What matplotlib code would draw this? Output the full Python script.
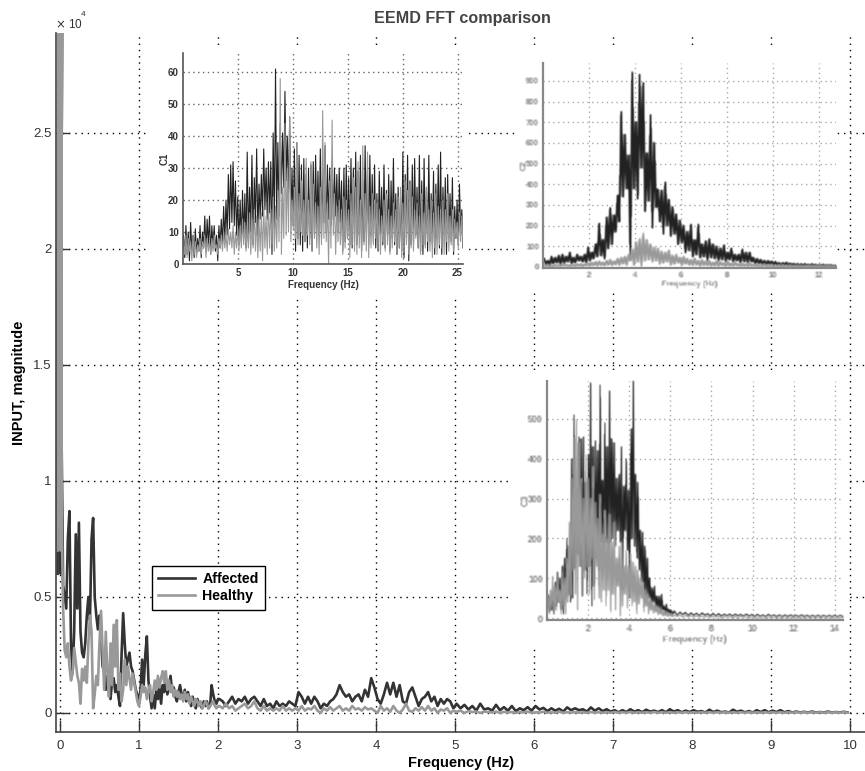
import numpy as np
import matplotlib
matplotlib.use('Agg')
import matplotlib.pyplot as plt

plt.rcParams['font.family'] = ['Liberation Sans', 'DejaVu Sans']

W, H = 865, 771
DARK = '#333333'
GRAY = '#999999'

# main spectrum, magnitude / 1e4
spike_freq = [-0.03, -0.02, -0.01, 0.0, 0.01, 0.025, 0.01, 0.0]
spike_aff = [0.6, 2.93, 0.95, 2.93, 0.9, 2.93, 0.6, 0.9]
spike_hea = [0.7, 2.93, 0.8, 2.93, 0.7, 2.93, 0.75, 2.15]

low_aff = [1.2, 0.55, 0.5, 0.45, 0.75, 0.87, 0.3, 0.17, 0.35, 0.77, 0.45, 0.82, 0.35, 0.26, 0.24, 0.3,
           0.42, 0.5, 0.4, 0.75, 0.84, 0.5, 0.42, 0.36, 0.42, 0.33, 0.2, 0.18, 0.1, 0.16, 0.12, 0.06,
           0.14, 0.15, 0.09, 0.12, 0.07, 0.03, 0.25, 0.43, 0.3, 0.2, 0.23, 0.26, 0.2, 0.18, 0.14, 0.1,
           0.08, 0.04, 0.1, 0.23, 0.12, 0.25, 0.33, 0.14, 0.07, 0.02, 0.08, 0.02, 0.1, 0.06, 0.11, 0.04,
           0.12, 0.09, 0.15, 0.08, 0.12, 0.16, 0.09, 0.11, 0.07, 0.05, 0.09, 0.12, 0.08, 0.06, 0.1, 0.05,
           0.09, 0.06, 0.03, 0.07, 0.04, 0.02, 0.06, 0.04, 0.03, 0.02, 0.05, 0.03, 0.05, 0.02, 0.03, 0.12,
           0.08, 0.05, 0.04, 0.06]
low_hea = [0.9, 0.45, 0.27, 0.24, 0.3, 0.2, 0.14, 0.17, 0.28, 0.22, 0.16, 0.13, 0.04, 0.19, 0.14, 0.2,
           0.13, 0.3, 0.42, 0.35, 0.02, 0.08, 0.16, 0.12, 0.3, 0.44, 0.27, 0.1, 0.35, 0.18, 0.07, 0.3,
           0.12, 0.38, 0.2, 0.4, 0.1, 0.17, 0.05, 0.1, 0.23, 0.12, 0.2, 0.15, 0.1, 0.17, 0.13, 0.09,
           0.05, 0.03, 0.07, 0.12, 0.09, 0.11, 0.06, 0.1, 0.12, 0.05, 0.09, 0.14, 0.1, 0.16, 0.11, 0.15,
           0.18, 0.13, 0.18, 0.1, 0.14, 0.09, 0.12, 0.07, 0.1, 0.07, 0.09, 0.06, 0.08, 0.05, 0.09, 0.06,
           0.08, 0.04, 0.07, 0.05, 0.03, 0.06, 0.05, 0.03, 0.05, 0.02, 0.03, 0.05, 0.04, 0.02, 0.03, 0.04,
           0.05, 0.03, 0.02, 0.03]
mid_aff = [0.06, 0.05, 0.03, 0.05, 0.07, 0.04, 0.06, 0.05, 0.07, 0.04, 0.06, 0.07, 0.05, 0.03, 0.06, 0.03,
           0.04, 0.02, 0.05, 0.03, 0.04, 0.03, 0.05, 0.04, 0.03, 0.09, 0.07, 0.04, 0.07, 0.04, 0.07, 0.05,
           0.02, 0.04, 0.03, 0.05, 0.06, 0.08, 0.12, 0.09, 0.07, 0.08, 0.05, 0.07, 0.08, 0.05, 0.1, 0.07,
           0.15, 0.11, 0.06, 0.04, 0.08, 0.13, 0.08, 0.13, 0.07, 0.12, 0.05, 0.04, 0.09, 0.11, 0.07, 0.03,
           0.06, 0.07, 0.09, 0.05, 0.07, 0.03, 0.06, 0.04, 0.06, 0.05, 0.02]
mid_hea = [0.03, 0.02, 0.04, 0.02, 0.03, 0.01, 0.02, 0.03, 0.04, 0.02, 0.03, 0.05, 0.02, 0.01, 0.03, 0.01,
           0.02, 0.01, 0.02, 0.01, 0.03, 0.01, 0.02, 0.01, 0.02, 0.01, 0.03, 0.01, 0.02, 0.015, 0.03, 0.01,
           0.0, 0.02, 0.01, 0.025, 0.01, 0.02, 0.03, 0.01, 0.02, 0.01, 0.03, 0.015, 0.02, 0.01, 0.025, 0.015,
           0.02, 0.01, 0.0, 0.03, 0.01, 0.02, 0.005, 0.03, 0.01, 0.0, 0.015, 0.04, 0.01, 0.005, 0.02, 0.01,
           0.025, 0.01, 0.03, 0.01, 0.02, 0.0, 0.015, 0.01, 0.02, 0.0, 0.01]
high_aff = [0.04, 0.02, 0.035, 0.015, 0.03, 0.01, 0.04, 0.015, 0.02, 0.01, 0.035, 0.012, 0.025, 0.01, 0.03, 0.008,
            0.02, 0.012, 0.025, 0.01, 0.03, 0.015, 0.022, 0.008, 0.02, 0.01, 0.018, 0.006, 0.024, 0.012, 0.02, 0.012,
            0.016, 0.006, 0.024, 0.01, 0.02, 0.008, 0.016, 0.006, 0.012, 0.003, 0.012, 0.004, 0.016, 0.006, 0.012, 0.003,
            0.014, 0.006, 0.01, 0.004, 0.012, 0.003, 0.016, 0.006, 0.012, 0.003, 0.01, 0.004, 0.012, 0.005, 0.008, 0.002,
            0.014, 0.004, 0.01, 0.003, 0.006, 0.002, 0.014, 0.005, 0.01, 0.003, 0.008, 0.002, 0.012, 0.004, 0.012, 0.003,
            0.01, 0.004, 0.012, 0.003, 0.008, 0.002, 0.006, 0.002, 0.005, 0.002, 0.006, 0.002, 0.004, 0.002, 0.006, 0.002,
            0.004, 0.002, 0.005, 0.002]
high_hea = [0.005, 0.01, 0.0, 0.008, 0.004, 0.006, 0.0, 0.006, 0.004, 0.002, 0.006, 0.0, 0.005, 0.002, 0.004, 0.0,
            0.004, 0.002, 0.006, 0.0, 0.003, 0.002, 0.005, 0.001, 0.003, 0.001, 0.005, 0.001, 0.003, 0.001, 0.004, 0.001,
            0.003, 0.001, 0.004, 0.001, 0.003, 0.001, 0.003, 0.001, 0.004, 0.001, 0.003, 0.001, 0.004, 0.001, 0.003, 0.001,
            0.003, 0.001, 0.004, 0.001, 0.003, 0.001, 0.003, 0.001, 0.003, 0.001, 0.003, 0.001, 0.003, 0.001, 0.003, 0.001,
            0.003, 0.001, 0.003, 0.001, 0.003, 0.001, 0.003, 0.001, 0.003, 0.001, 0.003, 0.001, 0.003, 0.001, 0.003, 0.001,
            0.003, 0.001, 0.003, 0.001, 0.003, 0.001, 0.003, 0.001, 0.003, 0.001, 0.003, 0.001, 0.003, 0.001, 0.003, 0.001,
            0.003, 0.001, 0.003, 0.001]

# C1 inset, alternating peak / trough
c1_aff_hi = [9, 12, 10, 13, 9, 11, 8, 12, 10, 15, 14, 15, 12, 12, 9, 12, 14, 18, 20, 28, 31, 32, 26, 21, 20, 23,
             22, 35, 24, 34, 27, 36, 25, 28, 36, 30, 32, 32, 41, 61, 38, 44, 41, 54, 40, 46, 30, 36, 38,
             34, 31, 33, 28, 30, 31, 32, 34, 29, 36, 30, 37, 31, 30, 32, 30, 28, 30, 26, 30, 31, 27, 33, 30, 35, 29,
             34, 26, 37, 30, 34, 28, 31, 22, 29, 24, 31, 23, 28, 26, 33, 22, 24, 21, 35, 28, 34, 26, 31, 33, 24, 34,
             26, 33, 24, 34, 22, 29, 25, 31, 35, 24, 27, 28, 22, 27, 18, 20, 25, 17]
c1_aff_lo = [2, 3, 1, 4, 2, 3, 4, 2, 5, 4, 6, 3, 5, 4, 1, 5, 6, 7, 9, 11, 13, 12, 9, 6, 7, 8,
             5, 7, 10, 6, 13, 9, 14, 15, 17, 14, 16, 3, 11, 14, 15, 22, 24, 26, 22, 14, 12, 4, 8,
             6, 4, 7, 5, 8, 4, 9, 11, 9, 8, 13, 10, 14, 12, 14, 15, 10, 13, 4, 7, 8, 6, 5, 7, 6, 9,
             4, 7, 10, 6, 9, 7, 5, 4, 9, 6, 5, 9, 4, 8, 6, 3, 5, 4, 2, 8, 1, 6, 7, 9, 5, 4,
             3, 6, 4, 7, 6, 3, 8, 5, 3, 9, 3, 8, 7, 3, 8, 6, 9, 5]
c1_hea_hi = [7, 9, 8, 7, 9, 7, 6, 8, 7, 9, 8, 7, 8, 9, 6, 8, 9, 10, 9, 11, 10, 12, 10, 11, 12, 14,
             13, 12, 16, 14, 17, 15, 14, 16, 18, 15, 20, 17, 21, 18, 23, 58, 24, 44, 30, 46, 20, 24, 38, 22, 26, 20,
             33, 20, 32, 25, 19, 18, 24, 48, 38, 19, 26, 45, 22, 18, 20, 17, 21, 20, 17, 22, 27, 24, 32, 20, 37, 22,
             35, 18, 22, 20, 19, 17, 15, 20, 22, 17, 15, 19, 17, 21, 24, 19, 26, 23, 25, 21, 17, 19, 15, 22, 16, 24,
             17, 20, 16, 22, 18, 17, 20, 17, 22, 15, 17, 14, 13, 16, 15]
c1_hea_lo = [3, 2, 4, 1, 3, 2, 4, 3, 5, 2, 4, 3, 4, 5, 3, 5, 4, 5, 4, 6, 5, 3, 5, 4, 5, 6,
             4, 5, 3, 5, 4, 2, 4, 1, 5, 3, 5, 6, 4, 5, 7, 3, 8, 9, 10, 7, 11, 8, 6, 10, 9, 7,
             9, 6, 4, 8, 5, 3, 6, 8, 7, 0, 5, 9, 3, 7, 6, 3, 5, 8, 2, 6, 4, 3, 5, 2, 6, 4,
             2, 5, 6, 8, 5, 3, 7, 4, 6, 3, 5, 7, 3, 5, 2, 4, 6, 3, 5, 4, 8, 5, 3, 6, 5, 7,
             4, 2, 5, 3, 6, 5, 3, 7, 4, 6, 4, 8, 5, 7, 6]

# C2 inset
c2_aff_hi = [40, 30, 50, 45, 55, 60, 50, 70, 45, 60, 50, 60, 95, 70, 110, 210, 130, 240, 285, 250, 345, 750, 640, 540,
             940, 700, 930, 890, 550, 735, 600, 375, 370, 410, 325, 290, 255, 225, 200, 170, 205, 130, 205, 110, 125, 135,
             110, 100, 90, 105, 70, 90, 60, 60, 85, 70, 70, 45, 40, 35, 30, 30, 28, 25, 20, 20, 22, 18, 16, 15,
             14, 15, 12, 14, 12, 10, 12, 10, 10, 8]
c2_aff_lo = [10, 5, 15, 20, 10, 18, 25, 15, 20, 30, 25, 20, 30, 40, 50, 55, 40, 90, 110, 170, 220, 340, 380, 50,
             380, 330, 480, 270, 320, 190, 290, 220, 160, 200, 150, 160, 110, 120, 70, 80, 50, 60, 45, 50, 30, 45,
             40, 30, 35, 25, 35, 25, 30, 20, 25, 20, 25, 15, 15, 12, 10, 12, 8, 10, 5, 8, 6, 5, 6, 3,
             4, 5, 3, 4, 2, 3, 2, 3, 2, 3]
c2_hea_hi = [8, 10, 8, 12, 10, 14, 12, 10, 12, 14, 15, 14, 18, 22, 25, 28, 22, 30, 35, 28, 40, 45, 50, 60,
             85, 120, 135, 160, 130, 110, 95, 90, 75, 70, 80, 55, 60, 45, 50, 40, 35, 42, 30, 35, 28, 30,
             22, 30, 25, 20, 28, 18, 24, 15, 18, 14, 20, 12, 14, 10, 12, 8, 10, 6, 8, 8, 6, 7, 5, 6,
             5, 5, 4, 5, 4, 4, 3, 4, 3, 3]
c2_hea_lo = [2, 3, 1, 4, 2, 5, 3, 4, 3, 5, 2, 6, 4, 7, 5, 8, 6, 10, 8, 12, 9, 15, 10, 30,
             10, 25, 5, 30, 35, 25, 30, 15, 20, 25, 10, 15, 20, 8, 15, 10, 8, 10, 5, 8, 7, 5,
             6, 4, 7, 3, 5, 4, 6, 3, 4, 2, 4, 3, 2, 3, 2, 1, 2, 1, 2, 1, 1, 2, 1, 1,
             1, 1, 1, 1, 1, 1, 1, 1, 1, 1]

# C3 inset
c3_aff_hi = [60, 55, 45, 90, 115, 100, 130, 150, 200, 180, 400, 510, 320, 455, 450, 455, 340, 410, 590, 430, 445, 420,
             585, 345, 490, 430, 570, 450, 440, 350, 360, 430, 330, 400, 320, 475, 595, 360, 340, 220, 215, 180,
             150, 100, 75, 80, 55, 55, 60, 30, 35, 22, 20, 18, 15, 14, 13, 12, 13, 11, 12, 11, 10, 10,
             10, 9, 10, 9, 9, 8, 9, 8, 8, 8, 8, 7, 8, 7, 7, 7, 7, 7, 7, 7]
c3_aff_lo = [15, 20, 10, 30, 40, 20, 10, 50, 60, 40, 50, 125, 160, 130, 55, 120, 60, 130, 30, 80, 150, 120,
             190, 180, 190, 150, 190, 200, 180, 220, 190, 70, 220, 170, 50, 200, 180, 150, 120, 90, 50, 45,
             50, 30, 40, 20, 25, 15, 20, 10, 12, 10, 8, 6, 8, 5, 6, 5, 6, 4, 5, 4, 5, 4,
             5, 4, 4, 3, 4, 3, 4, 3, 3, 3, 3, 3, 3, 3, 3, 3, 3, 3, 3, 3]
c3_hea_hi = [50, 70, 105, 80, 110, 70, 115, 100, 150, 240, 350, 450, 495, 440, 350, 300, 410, 350, 300, 380, 290, 250,
             310, 210, 270, 200, 260, 190, 240, 150, 180, 190, 130, 170, 130, 160, 140, 130, 120, 100, 90, 70,
             60, 50, 40, 35, 30, 25, 20, 18, 15, 12, 10, 8, 8, 7, 6, 6, 5, 5, 5, 4, 4, 4,
             4, 4, 3, 3, 3, 3, 3, 3, 3, 3, 3, 3, 3, 3, 3, 3, 3, 3, 3, 3]
c3_hea_lo = [10, 25, 10, 20, 40, 10, 30, 10, 40, 60, 120, 60, 20, 130, 60, 100, 130, 60, 150, 45, 130, 50,
             40, 70, 30, 70, 15, 60, 20, 80, 5, 30, 60, 25, 50, 30, 40, 10, 35, 50, 15, 30,
             10, 20, 12, 15, 8, 10, 5, 6, 4, 5, 3, 4, 2, 3, 2, 2, 2, 2, 2, 1, 2, 1,
             1, 2, 1, 1, 1, 1, 1, 1, 1, 1, 1, 1, 1, 1, 1, 1, 1, 1, 1, 1]


def zigzag(hi, lo):
    out = np.empty(2*len(hi))
    out[0::2] = hi
    out[1::2] = lo
    return out


def blur(image, dpi):
    # the C2 and C3 panels are soft scaled pictures in the reference
    pad = 3
    img = np.pad(image, ((pad, pad), (pad, pad), (0, 0)))
    for axis in (0, 1):
        img = 0.25*np.roll(img, 1, axis) + 0.5*img + 0.25*np.roll(img, -1, axis)
    return img, -pad, -pad


def px_axes(x0, y0, x1, y1):
    # pixel box, y counted from the top of the image
    return fig.add_axes([x0/W, 1 - y1/H, (x1 - x0)/W, (y1 - y0)/H])


def inset(box, f, aff, hea, ylim, xticks, yticks, label, lw, col, size, gridcol, soft=False):
    ax = px_axes(*box)
    ax.plot(f, aff, color='#222222', lw=lw)
    ax.plot(f, hea, color=GRAY, lw=lw)
    ax.set_xlim(0, f[-1])
    ax.set_ylim(*ylim)
    ax.set_xticks(xticks)
    ax.set_yticks(yticks)
    ax.grid(True, color=gridcol, ls=(0, (1, 2.5)), lw=1.0)
    ax.tick_params(length=0, labelsize=size, colors=col, pad=3)
    for s in ['top', 'right']:
        ax.spines[s].set_visible(False)
    for s in ['left', 'bottom']:
        ax.spines[s].set_color('#555555' if not soft else '#888888')
        ax.spines[s].set_linewidth(1.2 if not soft else 1.6)
    for t in ax.get_xticklabels() + ax.get_yticklabels():
        t.set_fontweight('bold')
    ax.set_xlabel('Frequency (Hz)', fontsize=size, fontweight='bold', color=col, labelpad=1)
    ax.set_ylabel(label, fontsize=size, fontweight='bold', color=col, labelpad=-1)
    if soft:
        for a in ax.get_lines() + ax.get_xticklabels() + ax.get_yticklabels() + [ax.xaxis.label, ax.yaxis.label]:
            a.set_agg_filter(blur)
    return ax


fig = plt.figure(figsize=(W/100, H/100), dpi=100)
ax = px_axes(56, 33, 865, 732)

low_f = np.arange(len(low_aff))*0.02 + 0.02
mid_f = np.arange(len(mid_aff))*0.04 + 2.02
high_f = np.arange(len(high_aff))*0.05 + 5.02
freq = np.concatenate([spike_freq, low_f, mid_f, high_f])
affected = np.concatenate([spike_aff, low_aff, mid_aff, high_aff])
healthy = np.concatenate([spike_hea, low_hea, mid_hea, high_hea])

ax.plot(freq, affected, color=DARK, lw=1.9, label='Affected')
ax.plot(freq, healthy, color=GRAY, lw=1.9, label='Healthy')
ax.set_xlim(-0.05, 10.19)
ax.set_ylim(-0.082, 2.93)
ax.set_xticks(range(11))
ax.set_yticks([0, 0.5, 1, 1.5, 2, 2.5])
ax.set_yticklabels(['0', '0.5', '1', '1.5', '2', '2.5'])
ax.grid(True, color='black', ls=(0, (1, 3.5)), lw=1.0)
ax.tick_params(direction='in', length=9, width=1, color='#333333', labelsize=9.5, labelcolor='#333333')
ax.tick_params(axis='x', pad=6)
ax.tick_params(axis='y', pad=3)
for s in ['top', 'right']:
    ax.spines[s].set_visible(False)
for s in ['left', 'bottom']:
    ax.spines[s].set_color('#444444')
    ax.spines[s].set_linewidth(1.2)
ax.set_xlabel('Frequency (Hz)', fontsize=10.5, fontweight='bold')
ax.xaxis.set_label_coords((461 - 56)/809, -0.034)
ax.set_ylabel('INPUT, magnitude', fontsize=10.5, fontweight='bold')
ax.yaxis.set_label_coords(-(56 - 26)/809, (732 - 383)/699)

fig.text(462/W, 1 - 19/H, 'EEMD FFT comparison', ha='center', va='center', fontsize=11.6,
         fontweight='bold', color='#444444')
fig.text(55/W, 1 - 25/H, r'$\times$ 10', ha='left', va='center', fontsize=8.5, color='#333333')
fig.text(81/W, 1 - 15/H, '4', ha='left', va='center', fontsize=6, color='#333333')

leg = ax.legend(loc='upper left', bbox_to_anchor=(152/W, 1 - 566/H), bbox_transform=fig.transFigure,
                fancybox=False, framealpha=1, edgecolor='black', borderaxespad=0, handlelength=2.6,
                borderpad=0.45, labelspacing=0.2, handletextpad=0.5, prop={'weight': 'bold', 'size': 10.2})
leg.get_frame().set_linewidth(1.0)

# white panels that hold the insets, they hide the main grid
for box in [(146, 46, 467, 295), (515, 46, 836, 293), (512, 370, 846, 648)]:
    cover = px_axes(*box)
    cover.set_xticks([])
    cover.set_yticks([])
    for s in cover.spines.values():
        s.set_visible(False)

c1_f = np.linspace(0.05, 25.5, 2*len(c1_aff_hi))
c2_f = np.linspace(0.05, 12.75, 2*len(c2_aff_hi))
c3_f = np.concatenate([np.linspace(0.05, 6.1, 106), np.linspace(6.2, 14.4, 62)])

inset((183, 53, 463, 264), c1_f, zigzag(c1_aff_hi, c1_aff_lo), zigzag(c1_hea_hi, c1_hea_lo), (0, 66),
      [5, 10, 15, 20, 25], [0, 10, 20, 30, 40, 50, 60], 'C1', 0.8, '#333333', 7, '#666666')
inset((543, 63, 836, 268), c2_f, zigzag(c2_aff_hi, c2_aff_lo), zigzag(c2_hea_hi, c2_hea_lo), (-5, 987),
      [2, 4, 6, 8, 10, 12], [0, 100, 200, 300, 400, 500, 600, 700, 800, 900], 'C2', 1.7, '#777777', 5.5,
      '#aaaaaa', soft=True)
inset((547, 381, 843, 620), c3_f, zigzag(c3_aff_hi, c3_aff_lo), zigzag(c3_hea_hi, c3_hea_lo), (-5, 595),
      [2, 4, 6, 8, 10, 12, 14], [0, 100, 200, 300, 400, 500], 'C3', 1.1, '#777777', 6.3,
      '#aaaaaa', soft=True)

fig.savefig('out.png', dpi=100)
